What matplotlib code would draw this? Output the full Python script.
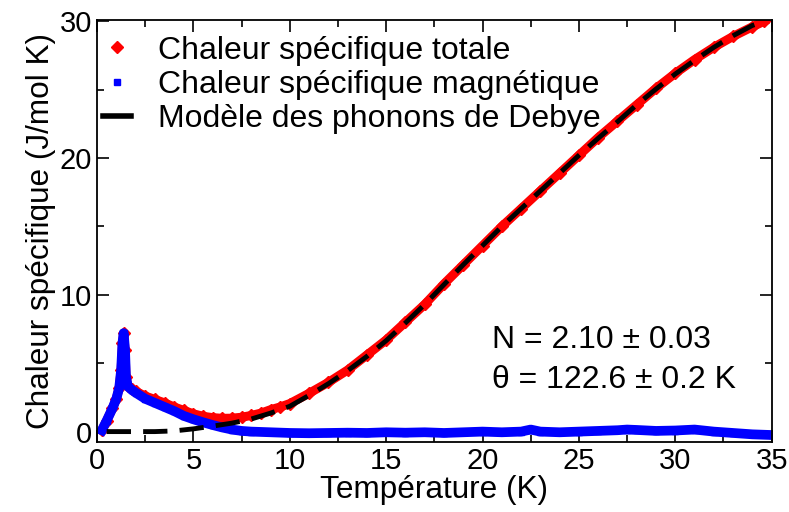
import matplotlib.pyplot as plt
from matplotlib.lines import Line2D
from matplotlib.ticker import MultipleLocator

plt.rcParams['font.family'] = ['Liberation Sans', 'DejaVu Sans']

# chaleur spécifique totale (J/mol K)
T_tot = [0.25, 0.5, 0.8, 1.0, 1.15, 1.25, 1.32, 1.38, 1.45, 1.5, 1.6, 1.8, 2.0, 2.5,
         3.0, 3.5, 4.0, 4.5, 5.0, 5.5, 6.0, 6.5, 7.0, 7.5, 8.0, 8.5, 9.0, 9.5, 10,
         11, 12, 13, 14, 15, 16, 17, 18, 19, 20, 21, 22, 23, 24, 25, 26, 27, 28,
         29, 30, 31, 32, 33, 34, 34.6]
C_tot = [0.1, 0.8, 1.7, 2.4, 3.2, 4.5, 6.5, 7.2, 6.0, 4.0, 3.3, 3.1, 2.95, 2.6,
         2.35, 2.1, 1.8, 1.55, 1.3, 1.12, 1.02, 0.97, 0.98, 1.05, 1.18, 1.35, 1.6, 1.8, 2.05,
         2.8, 3.6, 4.5, 5.6, 6.7, 8.0, 9.3, 10.8, 12.2, 13.6, 15.0, 16.3, 17.6, 18.9,
         20.2, 21.5, 22.7, 23.9, 25.1, 26.2, 27.2, 28.1, 28.9, 29.6, 30.0]

# chaleur spécifique magnétique
T_mag = [0.25, 0.5, 0.8, 1.0, 1.15, 1.25, 1.32, 1.38, 1.45, 1.5, 1.6, 1.8, 2.0, 2.5,
         3.0, 3.5, 4.0, 4.5, 5.0, 5.5, 6.0, 6.5, 7.0, 7.5, 8.0, 9.0, 10, 11, 12, 13,
         14, 15, 16, 17, 18, 19, 20, 21, 22, 22.5, 23, 24, 25, 26, 27, 27.5, 28, 29,
         30, 31, 32, 33, 34, 35]
C_mag = [0.1, 0.8, 1.7, 2.4, 3.2, 4.5, 6.5, 7.2, 6.0, 4.0, 3.3, 3.05, 2.85, 2.4,
         2.1, 1.8, 1.5, 1.15, 0.9, 0.68, 0.48, 0.3, 0.15, 0.05, 0.0, -0.05, -0.1, -0.12,
         -0.1, -0.08, -0.1, -0.05, -0.08, -0.05, -0.1, -0.05, 0.0, -0.05, 0.0, 0.15, 0.0,
         -0.05, 0.0, 0.05, 0.1, 0.15, 0.12, 0.05, 0.08, 0.15, 0.0, -0.1, -0.2, -0.25]

# modèle de Debye
T_deb = [0.5, 1, 2, 3, 4, 5, 6, 7, 8, 9, 10, 11, 12, 13, 14, 15, 16, 17, 18, 19,
         20, 21, 22, 23, 24, 25, 26, 27, 28, 29, 30, 31, 32, 33, 34, 34.6]
C_deb = [0.0, 0.0, 0.0, 0.0, 0.05, 0.2, 0.4, 0.62, 0.92, 1.35, 1.85, 2.65, 3.5,
         4.45, 5.5, 6.65, 7.95, 9.3, 10.75, 12.2, 13.6, 15.0, 16.3, 17.6, 18.9, 20.2,
         21.45, 22.65, 23.9, 25.05, 26.15, 27.15, 28.1, 28.95, 29.7, 30.0]

fig = plt.figure(figsize=(7.89, 5.12), dpi=100)
ax = fig.add_axes([0.123, 0.137, 0.855, 0.824])

ax.plot(T_tot, C_tot, color='red', lw=6.5, marker='D', ms=6, mec='red')
ax.plot(T_mag, C_mag, color='blue', lw=7, marker='s', ms=5, mec='blue')
ax.plot(T_deb, C_deb, color='black', lw=3.5, ls=(0, (5, 2.5)))

ax.set_xlim(0, 35)
ax.set_ylim(-0.75, 30.1)
ax.xaxis.set_major_locator(MultipleLocator(5))
ax.xaxis.set_minor_locator(MultipleLocator(2.5))
ax.yaxis.set_major_locator(MultipleLocator(10))
ax.yaxis.set_minor_locator(MultipleLocator(5))
ax.tick_params(which='both', direction='in', top=True, right=True, width=1.2,
               labelsize=21)
ax.tick_params(which='major', length=8.5)
ax.tick_params(which='minor', length=5)
for s in ax.spines.values():
    s.set_linewidth(1.3)

ax.set_xlabel('Température (K)', fontsize=22.7, labelpad=0)
ax.set_ylabel('Chaleur spécifique (J/mol K)', fontsize=22.7, labelpad=3)

handles = [Line2D([], [], ls='none', marker='D', color='red', ms=6),
           Line2D([], [], ls='none', marker='s', color='blue', ms=5),
           Line2D([], [], color='black', lw=4)]
labels = ['Chaleur spécifique totale', 'Chaleur spécifique magnétique',
          'Modèle des phonons de Debye']
ax.legend(handles, labels, loc='upper left', bbox_to_anchor=(0, 0.978), frameon=False,
          fontsize=23, handlelength=0.85, handletextpad=0.87, labelspacing=0.13,
          borderaxespad=0, borderpad=0.2)

ax.text(20.5, 6.7, 'N = 2.10 ± 0.03', fontsize=23, va='center')
ax.text(20.5, 3.8, 'θ = 122.6 ± 0.2 K', fontsize=23, va='center')

fig.savefig('out.png', dpi=100)
